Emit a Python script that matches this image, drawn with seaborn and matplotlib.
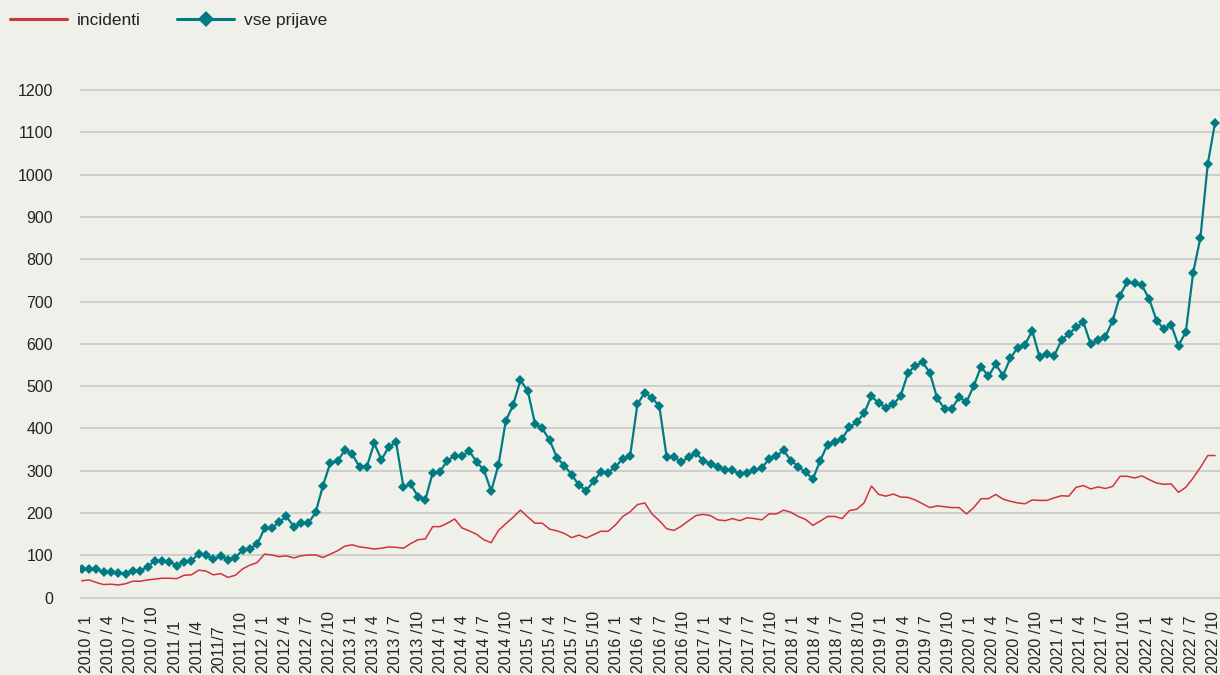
import numpy as np
import pandas as pd
import matplotlib
matplotlib.use("Agg")
import matplotlib.pyplot as plt
from matplotlib.lines import Line2D
import seaborn as sns

# ---- data (monthly, 2010/1 .. 2022/12) ----
vse_prijave = [
    68, 67, 67, 61, 61, 59, 56, 64, 63, 73, 87, 87,
    85, 76, 85, 87, 104, 100, 91, 98, 90, 95, 112, 116,
    126, 164, 164, 179, 192, 168, 176, 176, 202, 265, 319, 323,
    349, 339, 309, 310, 365, 326, 357, 367, 262, 268, 239, 232,
    295, 298, 324, 335, 334, 347, 321, 302, 252, 314, 418, 455,
    514, 489, 411, 400, 372, 331, 312, 291, 266, 253, 275, 297,
    295, 310, 328, 335, 457, 485, 472, 453, 332, 332, 321, 332,
    342, 324, 316, 308, 302, 302, 292, 295, 301, 306, 328, 335,
    348, 324, 310, 296, 281, 324, 362, 369, 376, 403, 415, 436,
    476, 460, 449, 457, 477, 531, 548, 557, 531, 471, 447, 447,
    474, 462, 501, 546, 523, 552, 525, 566, 591, 598, 631, 569,
    576, 572, 609, 623, 639, 651, 599, 608, 617, 655, 714, 747,
    743, 738, 706, 655, 635, 645, 596, 628, 768, 851, 1025, 1123,
]
incidenti = [
    40, 42, 36, 31, 32, 30, 33, 39, 39, 42, 44, 46,
    46, 45, 53, 54, 65, 63, 54, 57, 48, 53, 68, 77,
    83, 103, 101, 97, 99, 94, 99, 101, 101, 95, 103, 111,
    122, 125, 120, 118, 115, 117, 120, 119, 117, 128, 137, 139,
    168, 168, 176, 186, 165, 158, 150, 137, 130, 159, 175, 190,
    207, 191, 176, 176, 162, 158, 152, 142, 148, 141, 149, 157,
    157, 172, 192, 203, 220, 224, 198, 182, 163, 159, 169, 182,
    194, 197, 194, 184, 182, 187, 182, 189, 187, 184, 198, 198,
    207, 202, 192, 185, 171, 181, 192, 192, 187, 206, 209, 224,
    264, 244, 240, 245, 238, 237, 231, 222, 213, 217, 215, 213,
    213, 198, 213, 234, 234, 244, 233, 228, 224, 222, 231, 230,
    230, 236, 241, 240, 261, 265, 257, 262, 258, 263, 287, 287,
    283, 288, 279, 271, 268, 269, 249, 261, 283, 308, 336, 336,
]
tick_labels = [
    "2010 / 1", "2010 / 4", "2010 / 7", "2010 / 10",
    "2011 /1", "2011 /4", "2011/7", "2011 /10",
    "2012 / 1", "2012 / 4", "2012 / 7", "2012 /10",
    "2013 / 1", "2013 / 4", "2013 / 7", "2013 /10",
    "2014 / 1", "2014 / 4", "2014 / 7", "2014 /10",
    "2015 / 1", "2015 / 4", "2015 / 7", "2015 /10",
    "2016 / 1", "2016 / 4", "2016 / 7", "2016 /10",
    "2017 / 1", "2017 / 4", "2017 / 7", "2017 /10",
    "2018 / 1", "2018 / 4", "2018 / 7", "2018 /10",
    "2019 / 1", "2019 / 4", "2019 / 7", "2019 /10",
    "2020 / 1", "2020 / 4", "2020 / 7", "2020 /10",
    "2021 / 1", "2021 / 4", "2021 / 7", "2021 /10",
    "2022 / 1", "2022 / 4", "2022 / 7", "2022 /10",
]
y_ticks = [0, 100, 200, 300, 400, 500, 600, 700, 800, 900, 1000, 1100, 1200]

# ---- style ----
BG = "#f0f0eb"
RED = "#d1343b"
TEAL = "#007b82"
GRID = "#c9c9c7"
TXT = "#222222"

sns.set_theme(style="white", rc={"axes.facecolor": BG, "figure.facecolor": BG})
plt.rcParams["font.family"] = ["Liberation Sans", "DejaVu Sans"]

df = pd.DataFrame({
    "idx": np.arange(len(vse_prijave)),
    "vse prijave": vse_prijave,
    "incidenti": incidenti,
})

W, H = 1220, 675
fig = plt.figure(figsize=(W / 100, H / 100), dpi=100)
fig.patch.set_facecolor(BG)

# pixel geometry of the plot area
x0_px, px_per_month = 81.7, 7.312
left_px, right_px = 79.5, 1220
y0_px, y1200_px = 597.7, 90.0
ppu = (y0_px - y1200_px) / 1200.0
ylo, yhi = -3, 1203
bottom_px = y0_px - ylo * ppu
top_px = y0_px - yhi * ppu
ax = fig.add_axes([left_px / W, 1 - bottom_px / H,
                   (right_px - left_px) / W, (bottom_px - top_px) / H])
ax.set_facecolor(BG)

for v in y_ticks:
    ax.axhline(v, color=GRID, lw=1.2, zorder=0)

sns.lineplot(data=df, x="idx", y="incidenti", ax=ax, color=RED, lw=1.1,
             zorder=3, legend=False)
sns.lineplot(data=df, x="idx", y="vse prijave", ax=ax, color=TEAL, lw=1.6,
             marker="D", markersize=4.6, markeredgewidth=0, zorder=4,
             legend=False)

ax.set_xlim((left_px - x0_px) / px_per_month, (right_px - x0_px) / px_per_month)
ax.set_ylim(ylo, yhi)

ax.set_yticks(y_ticks)
ax.set_yticklabels([str(v) for v in y_ticks], fontsize=11.5, color=TXT)
ax.tick_params(axis="y", length=0, pad=19)

tick_pos = np.linspace((86.7 - x0_px) / px_per_month,
                       (1213.3 - x0_px) / px_per_month, len(tick_labels))
ax.set_xticks(tick_pos)
ax.set_xticklabels(tick_labels, rotation=90, fontsize=11.5, color=TXT,
                   va="bottom", ha="center")
ax.tick_params(axis="x", length=0, pad=(673 - bottom_px) * 0.72)

ax.set_xlabel("")
ax.set_ylabel("")
for s in ax.spines.values():
    s.set_visible(False)
ax.grid(False)

handles = [
    Line2D([], [], color=RED, lw=2.2),
    Line2D([], [], color=TEAL, lw=2.2, marker="D", markersize=8,
           markeredgewidth=0),
]
fig.legend(handles, ["incidenti", "vse prijave"], loc="center left",
           bbox_to_anchor=(10 / W, 1 - 20 / H), ncol=2, frameon=False,
           fontsize=12.5, handlelength=3.3, handletextpad=0.55,
           columnspacing=2.1, borderpad=0, borderaxespad=0,
           labelcolor=TXT)

fig.savefig("out.png", dpi=100, facecolor=BG)
